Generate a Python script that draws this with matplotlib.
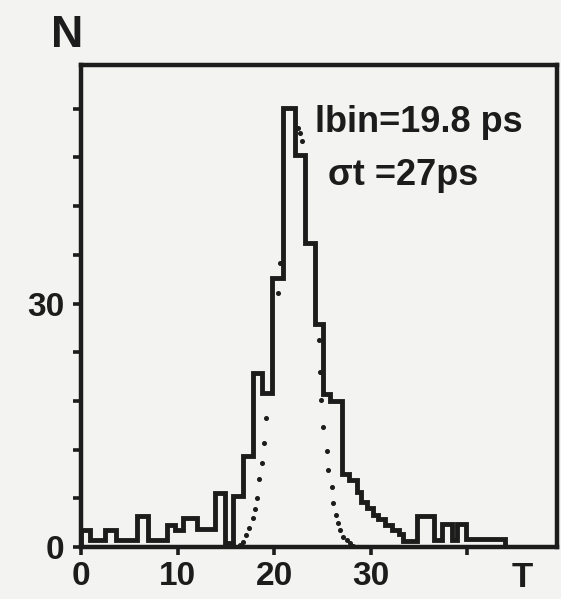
import matplotlib
matplotlib.use("Agg")
import matplotlib.pyplot as plt

# histogram (bin edges in T units, counts N)
edges = [0, 0.93, 2.49, 3.6, 5.77, 6.97, 8.88, 9.74, 10.6, 11.99,
         13.89, 14.92, 15.78, 16.82, 17.85, 18.73, 19.76, 20.88, 22.12, 23.21,
         24.25, 25.11, 25.8, 27.0, 27.8, 28.6, 29.0, 29.6, 30.2, 30.8,
         31.5, 32.2, 32.9, 33.3, 34.8, 36.6, 37.4, 38.4, 38.9, 39.9,
         43.9]
counts = [2.1, 0.9, 2.1, 0.9, 3.8, 0.9, 2.7, 2.1, 3.6, 2.2,
          6.7, 0.5, 6.3, 11.2, 21.5, 19.0, 33.2, 54.1, 48.3, 37.5,
          27.5, 18.8, 18.0, 9.0, 8.2, 6.8, 5.6, 4.8, 4.0, 3.4,
          2.7, 2.1, 1.6, 0.8, 3.8, 0.9, 2.8, 0.9, 2.8, 1.0]

# visible dots of the fitted curve
fit_x = [16.5, 16.82, 17.10, 17.44, 17.79, 18.03, 18.27, 18.48, 18.73, 19.0, 19.17,
         20.45, 20.6, 22.5, 22.7, 22.9,
         24.6, 24.75, 24.9, 25.11, 25.46, 25.63, 25.98, 26.15, 26.42, 26.66,
         26.84, 27.18, 27.53, 27.88, 28.22]
fit_y = [0.25, 0.65, 1.48, 2.31, 3.54, 4.64, 6.0, 8.35, 10.32, 12.86, 15.87,
         31.3, 35.0, 51.6, 51.0, 50.0,
         25.5, 21.6, 18.1, 14.8, 11.8, 9.5, 7.4, 5.4, 3.9, 2.9,
         2.1, 1.27, 0.86, 0.46, 0.16]

xticks = [0, 10, 20, 30, 40]
xlabels = ["0", "10", "20", "30", ""]
yticks = [0, 6, 12, 18, 24, 30, 36, 42, 48, 54]
ylabels = ["0", "", "", "", "", "30", "", "", "", ""]

ink = "#1c1c1c"
paper = "#f3f3f1"
font = "Liberation Sans"

fig = plt.figure(figsize=(5.61, 5.99), dpi=100, facecolor=paper)
ax = fig.add_axes([0.1444, 0.0868, 0.8485, 0.8047], facecolor=paper)

ax.stairs(counts, edges, color=ink, lw=3.5, baseline=0)
ax.plot(fit_x, fit_y, ls="none", marker="o", ms=2.6, color=ink)

ax.set_xlim(0, 49.3)
ax.set_ylim(0, 59.4)
for s in ax.spines.values():
    s.set_linewidth(3.2)
    s.set_color(ink)

ax.set_xticks(xticks, xlabels)
ax.set_yticks(yticks, ylabels)
ax.tick_params(axis="both", direction="out", length=6, width=2.6, color=ink,
               labelcolor=ink, labelsize=24, pad=6)
ax.tick_params(axis="x", pad=4)
for lab in ax.get_xticklabels() + ax.get_yticklabels():
    lab.set_fontfamily(font)
    lab.set_fontweight("bold")

ax.text(45.7, -0.03, "T", transform=ax.get_xaxis_transform(), ha="center",
        va="top", fontsize=25, fontweight="bold", family=font, color=ink)
fig.text(0.12, 0.94, "N", ha="center", va="center", fontsize=32,
         fontweight="bold", family=font, color=ink)

ax.text(0.492, 0.861, "lbin=19.8 ps", transform=ax.transAxes, ha="left",
        va="baseline", fontsize=26, fontweight="bold", family=font, color=ink)
ax.text(0.519, 0.751, "\u03c3t =27ps", transform=ax.transAxes, ha="left",
        va="baseline", fontsize=26, fontweight="bold", family=font, color=ink)

fig.savefig("out.png", dpi=100, facecolor=paper)
